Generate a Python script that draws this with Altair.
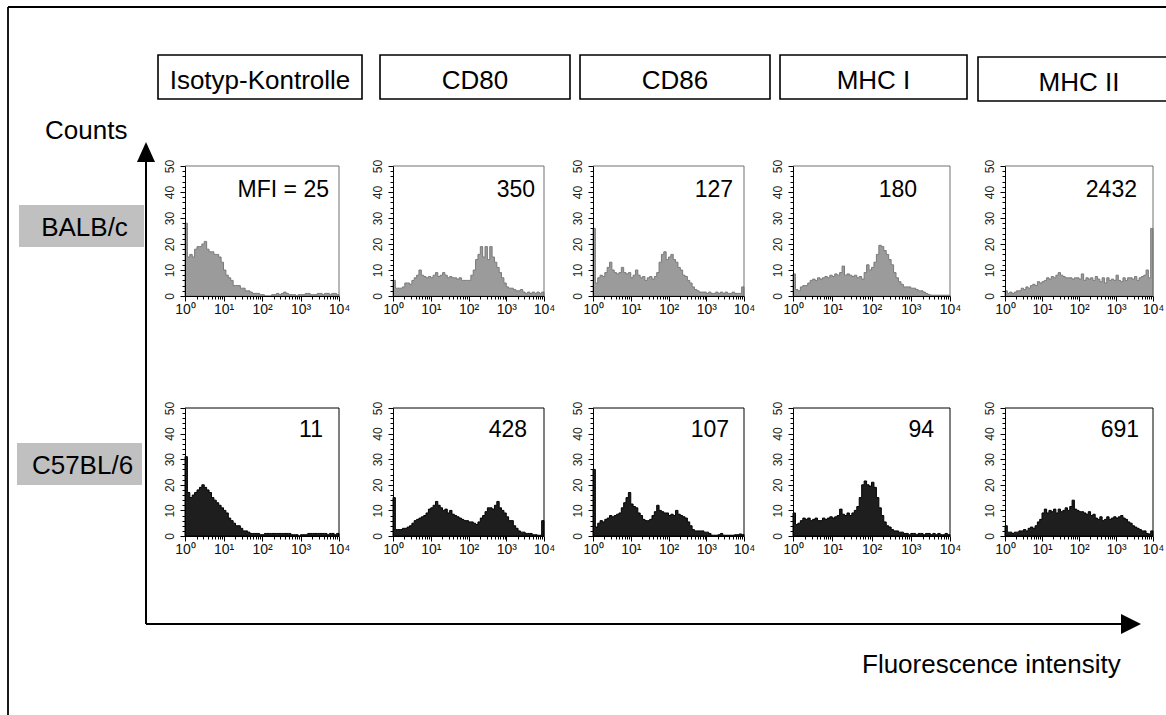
import altair as alt
import pandas as pd

W, H = 1166, 715
FONT = "Liberation Sans"

# ---- histogram data: 64 log-spaced channels from 10^0 to 10^4 -------------
N_BINS = 64
edges = [10 ** (i / 16) for i in range(N_BINS + 1)]

iso_balb = [28, 15, 16, 15, 18, 19, 19, 20, 21, 18, 17, 17, 16, 16, 15, 13,
            10, 8, 7, 6, 4, 4, 4, 3, 3, 2, 2, 1.5, 1, 1, 1, 0.5,
            0.5, 0, 0, 0, 0.5, 0.5, 1, 0.5, 1, 1.5, 1, 0.5, 0.5, 0.5, 0, 0.5,
            0.5, 0.5, 1, 1, 0.5, 0.5, 0.5, 1, 1, 0.5, 1, 1, 0.5, 1, 1, 0.5]
cd80_balb = [6, 3, 3, 3, 3.5, 5, 5, 4.5, 6, 7, 8, 10, 8, 7.5, 7, 7.5,
             7, 8, 9, 7.5, 8, 9, 8, 7, 7.5, 7, 7, 6.5, 7, 6, 6, 6,
             6, 8, 10, 14, 16, 19, 15, 19, 14, 19, 15, 13, 11, 9, 7, 5,
             3.5, 3, 3, 2.5, 2, 2, 2.5, 1.5, 1, 1.5, 1, 1.5, 1, 1.5, 1, 1.5]
cd86_balb = [26, 5, 7, 8, 7.5, 9, 11, 13, 10, 9, 8.5, 9, 11, 9, 8.5, 9,
             7, 8, 10, 8, 7, 7.5, 6, 7, 7.5, 6.5, 7.5, 9, 13, 16, 17, 14,
             15, 16, 14, 13, 11, 10, 8, 7.5, 6, 5, 3.5, 2.5, 2, 1.5, 1.5, 1.5,
             1, 1.5, 1, 1, 1.5, 1, 1.5, 1, 1.5, 1, 1, 1.5, 1, 1, 1, 3.5]
mhc1_balb = [8.5, 2.5, 2, 3.5, 4, 4, 5, 6, 6.5, 6, 7, 6.5, 7, 7.5, 7, 8,
             7.5, 8.5, 8, 9, 11.5, 8, 8.5, 8, 7.5, 8, 7, 7.5, 6.5, 9, 12, 10,
             11, 13, 16, 19.5, 19, 17.5, 16, 14, 12, 9, 7, 5.5, 4.5, 3.5, 3.5, 3.5,
             3, 3, 2.5, 2, 2, 1.5, 1, 0.5, 0.3, 0.3, 0.3, 0.3, 0.3, 0.3, 0.3, 0.3]
mhc2_balb = [2, 1, 1.5, 1, 1.5, 2, 2, 3, 2.5, 3.5, 3, 4, 4.5, 4, 5.5, 5,
             5.5, 6, 7, 6.5, 7.5, 7, 8, 9, 8, 7.5, 7, 7, 7, 6.5, 7, 7,
             6.5, 8.5, 6, 7, 6.5, 7, 6, 7.5, 6.5, 5.5, 7, 5, 7, 6, 6.5, 6,
             8, 6, 5.5, 7, 6, 7, 7, 6.5, 7.5, 6, 7, 7.5, 8, 10, 7, 26]

iso_c57 = [31, 17, 15, 16, 17, 18, 19, 20, 19, 18, 17, 15, 14, 13, 12, 11,
           10, 9, 7, 6, 5, 4, 4, 3, 2, 2, 1.5, 1, 1, 1, 1, 0.5,
           0.5, 1, 1, 1, 1, 1, 1, 1, 1, 1, 1, 1, 0.5, 0.5, 0.5, 0,
           0.5, 0.5, 0.5, 1, 1, 1, 1, 1, 1, 1, 1, 0.5, 1, 1, 0.5, 1]
cd80_c57 = [15, 2.5, 2.5, 2.5, 3, 3, 3.5, 4, 5, 6, 6.5, 7, 7.5, 8, 9, 10.5,
            11, 12, 13.5, 12, 11, 10, 10.5, 9, 10, 8.5, 8, 7.5, 7, 6.5, 6, 6,
            5.5, 5.5, 5, 4.5, 5.5, 7, 8, 9.5, 11, 11, 10.5, 12, 13.5, 11, 10, 9,
            7.5, 6, 6, 4, 3, 2, 1.5, 1.5, 1, 1, 1, 0.5, 0.5, 0.3, 0.3, 6]
cd86_c57 = [26, 3.5, 5, 6, 5.5, 6.5, 7, 8, 7.5, 8, 8.5, 9, 11, 13, 15, 17,
            12.5, 11.5, 11, 9, 8, 6.5, 6, 6, 6.5, 8, 9.5, 12, 10, 9.5, 9, 9,
            8, 8.5, 8, 10, 8.5, 8, 7.5, 7, 5.5, 4, 2.5, 2, 2, 2, 2, 1.5,
            1.5, 1, 0.3, 0.3, 0.3, 0.5, 1, 0.3, 0.3, 0.3, 0.3, 0.3, 0.5, 0.5, 0.8, 0.5]
mhc1_c57 = [9, 4.5, 5, 6, 7, 6.5, 7, 6, 6.5, 7, 6, 6, 7, 6.5, 7, 7.5,
            7, 7.5, 8, 10.5, 8.5, 8, 9, 8, 9, 10, 11.5, 15, 20, 21.5, 20, 19.5,
            21, 19, 15, 11, 8, 5.5, 4, 3.5, 2.5, 2, 2, 1.5, 1.5, 1, 1, 0.5,
            1, 1, 0.5, 1, 1, 0.5, 1, 1, 0.5, 1, 0.5, 1, 0.5, 0.5, 1, 0.5]
mhc2_c57 = [4, 1.5, 1.5, 1, 1.5, 1.5, 2, 2, 2.5, 2, 3, 3.5, 3, 4, 5.5, 6.5,
            9, 10.5, 9, 10, 9.5, 10.5, 9, 10.5, 9.5, 10, 11, 10, 11.5, 14, 10.5, 10,
            9.5, 9.5, 9, 8.5, 9.5, 8, 8.5, 7, 6.5, 7.5, 6, 6.5, 7.5, 6.5, 7, 7.5,
            7, 7.5, 8, 7, 6.5, 5.5, 5, 4, 3.5, 3, 2.5, 2, 2, 1, 0.8, 2]

markers = ["Isotyp-Kontrolle", "CD80", "CD86", "MHC I", "MHC II"]
strains = ["BALB/c", "C57BL/6"]
histograms = [
    [iso_balb, cd80_balb, cd86_balb, mhc1_balb, mhc2_balb],
    [iso_c57, cd80_c57, cd86_c57, mhc1_c57, mhc2_c57],
]
mfi_labels = [
    ["MFI = 25", "350", "127", "180", "2432"],
    ["11", "428", "107", "94", "691"],
]

# ---- layout (pixels) -------------------------------------------------------
COL_X = [(185, 339), (393, 544), (593, 744), (793, 950), (1005, 1153)]
ROW_Y = [(296, 166), (536, 408)]          # (count 0, count 50)
MFI_RIGHT = [[329, 535, 733, 917, 1137], [323, 527, 729, 934, 1139]]
MFI_BASE = [197, 437]
HEADER_BOX = [(158, 362, 55, 99), (380, 570, 55, 99), (580, 770, 55, 99),
              (780, 967, 55, 99), (978, 1180, 57, 101)]
STRAIN_BOX = [(19, 144, 205, 247), (17, 142, 443, 485)]
ROW_STYLE = [
    dict(fill="#9b9b9b", stroke="#7a7a7a", border="#707070"),
    dict(fill="#1e1e1e", stroke="#000000", border="#000000"),
]

X_TICKS = [m * 10 ** k for k in range(4) for m in range(1, 10)] + [10000]
Y_TICKS = list(range(0, 51, 2))
X_MAJOR_TEST = "indexof([1, 10, 100, 1000, 10000], datum.value) >= 0"
X_LABEL_EXPR = ("datum.value == 1 ? '10\u2070' : datum.value == 10 ? '10\u00b9' : "
                "datum.value == 100 ? '10\u00b2' : datum.value == 1000 ? '10\u00b3' : "
                "datum.value == 10000 ? '10\u2074' : ''")

one = pd.DataFrame({"k": [0]})


def histogram_panel(counts, row, col):
    """Histogram with its own log x-scale and count y-scale, mapped into its slot."""
    x0, x1 = COL_X[col]
    yb, yt = ROW_Y[row]
    style = ROW_STYLE[row]
    xsc = alt.Scale(type="log", domain=[1, 10000], range=[x0, x1], nice=False)
    ysc = alt.Scale(domain=[0, 50], range=[yb, yt], nice=False)
    xaxis = alt.Axis(
        orient="bottom", offset=yb - H, values=X_TICKS, labelExpr=X_LABEL_EXPR,
        tickSize={"condition": {"test": X_MAJOR_TEST, "value": 5}, "value": 3},
        labelOverlap=False, labelFlush=False, labelFontSize=14, labelPadding=1,
        labelFont=FONT, labelColor="#111", domainColor="#000", tickColor="#000",
        grid=False, title=None, zindex=2,
    )
    yaxis = alt.Axis(
        orient="left", offset=-x0, values=Y_TICKS,
        labelExpr="datum.value % 10 == 0 ? datum.label : ''",
        tickSize={"condition": {"test": "datum.value % 10 == 0", "value": 5}, "value": 3},
        labelAngle=270, labelAlign="center", labelBaseline="bottom",
        labelOverlap=False, labelFontSize=12, labelPadding=4, labelFont=FONT,
        labelColor="#222", domainColor="#000", tickColor="#000",
        grid=False, title=None, zindex=2,
    )
    df = pd.DataFrame({"fi": edges, "count": counts + counts[-1:]})
    area = alt.Chart(df).mark_area(
        interpolate="step-after", fill=style["fill"], stroke=style["stroke"],
        strokeWidth=1, fillOpacity=1,
    ).encode(
        x=alt.X("fi:Q", scale=xsc, axis=xaxis),
        y=alt.Y("count:Q", scale=ysc, axis=yaxis),
    )
    # top and right edges of the panel frame
    top_edge = alt.Chart(one).mark_rule(stroke=style["border"], strokeWidth=1).encode(
        x=alt.value(x0), x2=alt.value(x1), y=alt.value(yt)
    )
    right_edge = alt.Chart(one).mark_rule(stroke=style["border"], strokeWidth=1).encode(
        x=alt.value(x1), y=alt.value(yt), y2=alt.value(yb)
    )
    mfi = alt.Chart(pd.DataFrame({"mfi": [mfi_labels[row][col]]})).mark_text(
        align="right", baseline="alphabetic", fontSize=23, font=FONT, color="#000"
    ).encode(
        x=alt.value(MFI_RIGHT[row][col]),
        y=alt.value(MFI_BASE[row]),
        text="mfi:N",
    )
    return [area, top_edge, right_edge, mfi]


# ---- surrounding figure elements -------------------------------------------
frame_rules = [
    alt.Chart(one).mark_rule(stroke="#000", strokeWidth=1.8).encode(
        x=alt.value(8), x2=alt.value(W + 10), y=alt.value(7)),
    alt.Chart(one).mark_rule(stroke="#000", strokeWidth=1.8).encode(
        x=alt.value(8), y=alt.value(7), y2=alt.value(H + 10)),
]

header_df = pd.DataFrame({
    "label": markers,
    "x0": [b[0] for b in HEADER_BOX], "x1": [b[1] for b in HEADER_BOX],
    "y0": [b[2] for b in HEADER_BOX], "y1": [b[3] for b in HEADER_BOX],
})
header_df["xc"] = (header_df["x0"] + header_df["x1"]) / 2
header_df["yb"] = header_df["y0"] + 34
header_boxes = alt.Chart(header_df).mark_rect(
    fill="white", stroke="#000", strokeWidth=1.6
).encode(
    x=alt.X("x0:Q", scale=None, axis=None), x2="x1:Q",
    y=alt.Y("y0:Q", scale=None, axis=None), y2="y1:Q",
)
header_text = alt.Chart(header_df).mark_text(
    align="center", baseline="alphabetic", fontSize=26, font=FONT, color="#000"
).encode(
    x=alt.X("xc:Q", scale=None, axis=None),
    y=alt.Y("yb:Q", scale=None, axis=None),
    text="label:N",
)

strain_df = pd.DataFrame({
    "label": strains,
    "x0": [b[0] for b in STRAIN_BOX], "x1": [b[1] for b in STRAIN_BOX],
    "y0": [b[2] for b in STRAIN_BOX], "y1": [b[3] for b in STRAIN_BOX],
})
strain_df["xc"] = (strain_df["x0"] + strain_df["x1"]) / 2 + 3
strain_df["yb"] = strain_df["y0"] + 31
strain_boxes = alt.Chart(strain_df).mark_rect(fill="#c0c0c0", strokeWidth=0).encode(
    x=alt.X("x0:Q", scale=None, axis=None), x2="x1:Q",
    y=alt.Y("y0:Q", scale=None, axis=None), y2="y1:Q",
)
strain_text = alt.Chart(strain_df).mark_text(
    align="center", baseline="alphabetic", fontSize=26, font=FONT, color="#000"
).encode(
    x=alt.X("xc:Q", scale=None, axis=None),
    y=alt.Y("yb:Q", scale=None, axis=None),
    text="label:N",
)

counts_title = alt.Chart(one).mark_text(
    align="left", baseline="alphabetic", fontSize=26, font=FONT, color="#000"
).encode(x=alt.value(45), y=alt.value(139), text=alt.value("Counts"))
fi_title = alt.Chart(one).mark_text(
    align="left", baseline="alphabetic", fontSize=26, font=FONT, color="#000"
).encode(x=alt.value(862), y=alt.value(673), text=alt.value("Fluorescence intensity"))

v_axis_line = alt.Chart(one).mark_rule(stroke="#000", strokeWidth=2).encode(
    x=alt.value(146), y=alt.value(155), y2=alt.value(624)
)
h_axis_line = alt.Chart(one).mark_rule(stroke="#000", strokeWidth=2).encode(
    x=alt.value(146), x2=alt.value(1125), y=alt.value(624)
)
v_head = alt.Chart(one).mark_point(
    shape="M0,-1L0.9,1L-0.9,1Z", filled=True, fill="#000", strokeWidth=0,
    size=400, opacity=1
).encode(x=alt.value(146), y=alt.value(152))
h_head = alt.Chart(one).mark_point(
    shape="M1,0L-1,1L-1,-1Z", filled=True, fill="#000", strokeWidth=0,
    size=400, opacity=1
).encode(x=alt.value(1131), y=alt.value(624))

panel_layers = []
for r in range(2):
    for c in range(5):
        panel_layers += histogram_panel(histograms[r][c], r, c)

chart = alt.layer(
    *frame_rules, header_boxes, header_text, strain_boxes, strain_text,
    counts_title, fi_title, v_axis_line, h_axis_line, v_head, h_head,
    *panel_layers,
).resolve_scale(
    x="independent", y="independent"
).resolve_axis(
    x="independent", y="independent"
).properties(
    width=W, height=H, padding=0, autosize="none", background="white"
).configure_view(stroke=None)

chart.save("out.html", embed_options={"renderer": "svg", "actions": False})
